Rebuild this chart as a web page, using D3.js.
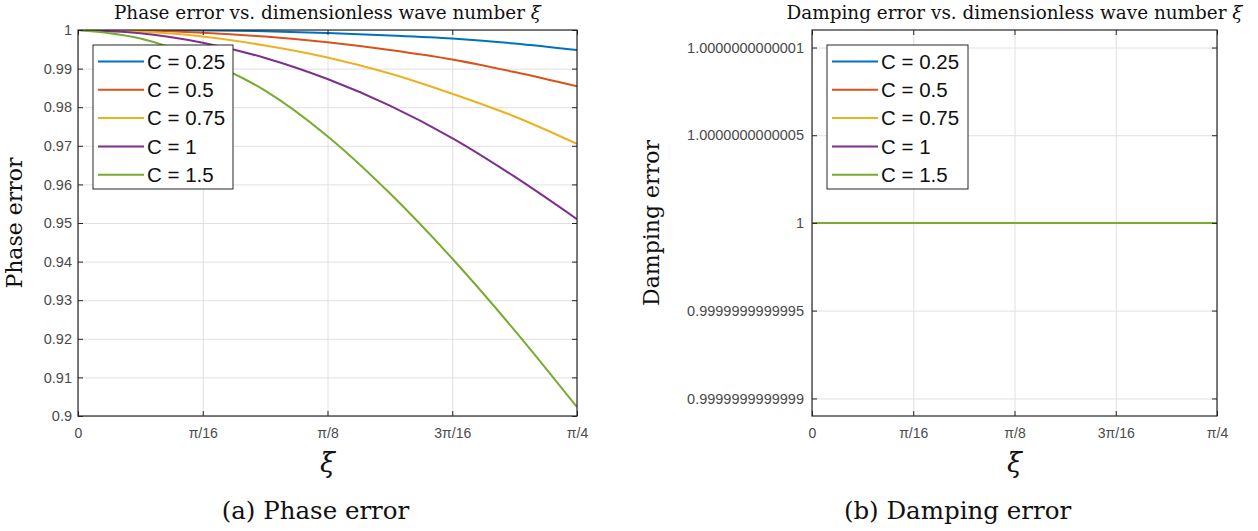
<!DOCTYPE html>
<html>
<head>
<meta charset="utf-8">
<script src="https://cdn.jsdelivr.net/npm/d3@7"></script>
<style>
  body { margin: 0; background: #fff; }
  svg { display: block; }
  .tick text { font-family: "Liberation Sans", Arial, sans-serif; fill: #4a4a4a; }
</style>
</head>
<body>
<div id="chart"></div>
<script>
// sample points of the wave number xi (k * pi/32, k = 0..8)
const xiValues = [0, 0.0982, 0.1963, 0.2945, 0.3927, 0.4909, 0.5890, 0.6872, 0.7854];

const seriesNames = ["C = 0.25", "C = 0.5", "C = 0.75", "C = 1", "C = 1.5"];
const seriesColors = ["#0072BD", "#D95319", "#EDB120", "#7E2F8E", "#77AC30"];

// phase error
const phaseC025 = [1, 1.0000, 0.9999, 0.9997, 0.9992, 0.9986, 0.9978, 0.9965, 0.9948];
const phaseC05  = [1, 0.99985, 0.9993, 0.9983, 0.9968, 0.9948, 0.99235, 0.9891, 0.9854];
const phaseC075 = [1, 0.9996, 0.9983, 0.9960, 0.9929, 0.98875, 0.9835, 0.9776, 0.9705];
const phaseC1   = [1, 0.99915, 0.9967, 0.99276, 0.9873, 0.9804, 0.9720, 0.9620, 0.9510];
const phaseC15  = [1, 0.9978, 0.9923, 0.9843, 0.9725, 0.9577, 0.9408, 0.9222, 0.9023];

// damping error: all schemes sit on 1
const dampC025 = [1, 1, 1, 1, 1, 1, 1, 1, 1];
const dampC05  = [1, 1, 1, 1, 1, 1, 1, 1, 1];
const dampC075 = [1, 1, 1, 1, 1, 1, 1, 1, 1];
const dampC1   = [1, 1, 1, 1, 1, 1, 1, 1, 1];
const dampC15  = [1, 1, 1, 1, 1, 1, 1, 1, 1];

const xTickValues = [0, Math.PI / 16, Math.PI / 8, 3 * Math.PI / 16, Math.PI / 4];
const xTickLabels = ["0", "\u03c0/16", "\u03c0/8", "3\u03c0/16", "\u03c0/4"];

const phaseTickValues = [0.9, 0.91, 0.92, 0.93, 0.94, 0.95, 0.96, 0.97, 0.98, 0.99, 1];
const phaseTickLabels = ["0.9", "0.91", "0.92", "0.93", "0.94", "0.95", "0.96", "0.97", "0.98", "0.99", "1"];

const dampTickValues = [0.9999999999999, 0.99999999999995, 1, 1.00000000000005, 1.0000000000001];
const dampTickLabels = ["0.9999999999999", "0.9999999999995", "1", "1.0000000000005", "1.0000000000001"];

const W = 1258, H = 531;
const serif = "'DejaVu Serif', 'Liberation Serif', serif";
const sans = "'Liberation Sans', Arial, sans-serif";

const svg = d3.select("#chart").append("svg")
    .attr("width", W)
    .attr("height", H)
    .style("background", "#fff");

function drawPanel(p) {
    const width = p.right - p.left;
    const height = p.bottom - p.top;

    const g = svg.append("g")
        .attr("transform", `translate(${p.left},${p.top})`);

    const x = d3.scaleLinear().domain([0, Math.PI / 4]).range([0, width]);
    const y = d3.scaleLinear().domain(p.yDomain).range([height, 0]);

    // grid
    g.append("g")
        .attr("class", "grid")
        .attr("transform", `translate(0,${height})`)
        .call(d3.axisBottom(x).tickValues(xTickValues).tickSize(-height).tickFormat(""))
        .call(s => s.select(".domain").remove())
        .selectAll("line").attr("stroke", "#e0e0e0");
    g.append("g")
        .attr("class", "grid")
        .call(d3.axisLeft(y).tickValues(p.yTicks).tickSize(-width).tickFormat(""))
        .call(s => s.select(".domain").remove())
        .selectAll("line").attr("stroke", "#e0e0e0");

    // lines
    const clipId = "clip" + p.id;
    g.append("clipPath").attr("id", clipId)
        .append("rect").attr("width", width).attr("height", height);

    const line = d3.line()
        .x((d, i) => x(xiValues[i]))
        .y(d => y(d))
        .curve(d3.curveMonotoneX);

    p.series.forEach((vals, i) => {
        g.append("path")
            .datum(vals)
            .attr("clip-path", `url(#${clipId})`)
            .attr("fill", "none")
            .attr("stroke", seriesColors[i])
            .attr("stroke-width", 2)
            .attr("d", line);
    });

    // axes with inward ticks, box on
    const tickLen = 5;
    const bottomAxis = g.append("g")
        .attr("transform", `translate(0,${height})`)
        .call(d3.axisBottom(x).tickValues(xTickValues)
            .tickFormat((d, i) => xTickLabels[i])
            .tickSizeInner(-tickLen).tickSizeOuter(0).tickPadding(12));
    g.append("g")
        .call(d3.axisTop(x).tickValues(xTickValues).tickFormat("")
            .tickSizeInner(-tickLen).tickSizeOuter(0));
    const leftAxis = g.append("g")
        .call(d3.axisLeft(y).tickValues(p.yTicks)
            .tickFormat((d, i) => p.yLabels[i])
            .tickSizeInner(-tickLen).tickSizeOuter(0).tickPadding(p.yPad));
    g.append("g")
        .attr("transform", `translate(${width},0)`)
        .call(d3.axisRight(y).tickValues(p.yTicks).tickFormat("")
            .tickSizeInner(-tickLen).tickSizeOuter(0));

    g.selectAll(".domain").remove();
    g.selectAll(".tick line").filter(function() {
        return !this.parentNode.parentNode.classList.contains("grid");
    }).attr("stroke", "#262626");
    bottomAxis.selectAll("text").style("font-size", "14px");
    leftAxis.selectAll("text").style("font-size", "14.5px");

    g.append("rect")
        .attr("width", width)
        .attr("height", height)
        .attr("fill", "none")
        .attr("stroke", "#262626")
        .attr("stroke-width", 1.2);

    // title
    const title = g.append("text")
        .attr("x", width / 2)
        .attr("y", -11)
        .attr("text-anchor", "middle")
        .style("font-family", serif)
        .style("font-size", "18.4px")
        .style("fill", "#111");
    title.append("tspan").text(p.title + " ");
    title.append("tspan").style("font-style", "italic").text("\u03be");

    // axis labels
    g.append("text")
        .attr("x", width / 2)
        .attr("y", height + 56)
        .attr("text-anchor", "middle")
        .style("font-family", serif)
        .style("font-style", "italic")
        .style("font-size", "27px")
        .style("fill", "#111")
        .text("\u03be");

    g.append("text")
        .attr("transform", `translate(${p.yLabelX},${height / 2}) rotate(-90)`)
        .attr("text-anchor", "middle")
        .style("font-family", serif)
        .style("font-size", "22px")
        .style("fill", "#111")
        .text(p.yLabel);

    // caption
    g.append("text")
        .attr("x", width / 2 + p.captionShift)
        .attr("y", height + 103)
        .attr("text-anchor", "middle")
        .style("font-family", serif)
        .style("font-size", "24.5px")
        .style("fill", "#111")
        .text(p.caption);

    // legend
    const rowH = 28.3;
    const legend = g.append("g")
        .attr("transform", `translate(${p.legendX},15)`);
    legend.append("rect")
        .attr("width", p.legendW)
        .attr("height", 144)
        .attr("fill", "#fff")
        .attr("stroke", "#262626")
        .attr("stroke-width", 1);
    seriesNames.forEach((name, i) => {
        const cy = 16.5 + i * rowH;
        legend.append("line")
            .attr("x1", 5).attr("x2", 51)
            .attr("y1", cy).attr("y2", cy)
            .attr("stroke", seriesColors[i])
            .attr("stroke-width", 2);
        legend.append("text")
            .attr("x", 54)
            .attr("y", cy)
            .attr("dy", "0.36em")
            .style("font-family", sans)
            .style("font-size", "20.5px")
            .style("fill", "#111")
            .text(name);
    });
}

drawPanel({
    id: "a", left: 78, right: 577, top: 30, bottom: 416,
    yDomain: [0.9, 1], yTicks: phaseTickValues, yLabels: phaseTickLabels, yPad: 6,
    series: [phaseC025, phaseC05, phaseC075, phaseC1, phaseC15],
    title: "Phase error vs. dimensionless wave number",
    yLabel: "Phase error", yLabelX: -56,
    caption: "(a) Phase error", captionShift: -12,
    legendX: 15, legendW: 140
});

drawPanel({
    id: "b", left: 812, right: 1217, top: 30, bottom: 416,
    yDomain: [1 - 1.1e-13, 1 + 1.1e-13], yTicks: dampTickValues, yLabels: dampTickLabels, yPad: 8,
    series: [dampC025, dampC05, dampC075, dampC1, dampC15],
    title: "Damping error vs. dimensionless wave number",
    yLabel: "Damping error", yLabelX: -153,
    caption: "(b) Damping error", captionShift: -57,
    legendX: 15, legendW: 141
});
</script>
</body>
</html>
